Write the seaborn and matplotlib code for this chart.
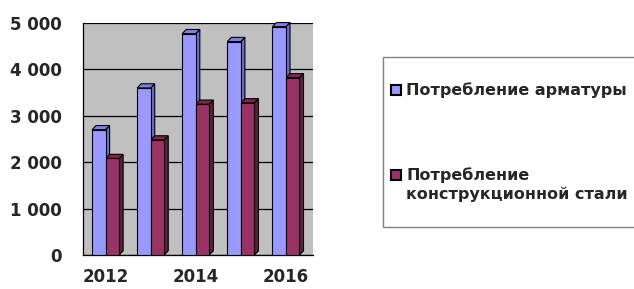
"""Consumption of rebar vs structural steel, 2012-2016."""
import matplotlib.pyplot as plt
from matplotlib.patches import Polygon, Rectangle
import pandas as pd
import seaborn as sns

years = ["2012", "2013", "2014", "2015", "2016"]
rebar = [2700, 3600, 4770, 4600, 4920]
steel = [2080, 2480, 3250, 3280, 3820]
series_names = ["Потребление арматуры", "Потребление\nконструкционной стали"]
y_ticks = [0, 1000, 2000, 3000, 4000, 5000]

colors = ["#9999FF", "#993366"]
side_colors = ["#6B6BD6", "#5E1F40"]
top_colors = ["#7F7FE6", "#7A2850"]

df = pd.DataFrame({
    "year": years * 2,
    "value": rebar + steel,
    "series": [series_names[0]] * len(years) + [series_names[1]] * len(years),
})

sns.set_style("white")
plt.rcParams["font.family"] = ["DejaVu Sans"]
plt.rcParams["font.weight"] = "bold"

W, H = 634, 289
fig = plt.figure(figsize=(W / 100, H / 100), dpi=100)
ax = fig.add_axes([83 / W, 1 - 255 / H, 230 / W, 232 / H])
ax.set_facecolor("#C0C0C0")

sns.barplot(data=df, x="year", y="value", hue="series", palette=colors,
            width=0.6, edgecolor="black", linewidth=0.8, saturation=1,
            ax=ax, zorder=3, legend=False)

# fake 3D depth derived from each bar
dx, dy = 0.09, 90
n = len(years)
for i, bar in enumerate(ax.patches[:2 * n]):
    k = i // n
    x, w, h = bar.get_x(), bar.get_width(), bar.get_height()
    side = Polygon([(x + w, 0), (x + w + dx, dy), (x + w + dx, h + dy), (x + w, h)],
                   closed=True, facecolor=side_colors[k], edgecolor="black",
                   linewidth=0.8, zorder=2.5, clip_on=False)
    top = Polygon([(x, h), (x + dx, h + dy), (x + w + dx, h + dy), (x + w, h)],
                  closed=True, facecolor=top_colors[k], edgecolor="black",
                  linewidth=0.8, zorder=2.5, clip_on=False)
    ax.add_patch(side)
    ax.add_patch(top)

ax.set_xlim(-0.5, n - 0.4)
ax.set_ylim(0, 5000)
for v in y_ticks:
    ax.axhline(v, color="black", linewidth=0.9, zorder=1)

ax.set_yticks(y_ticks)
ax.set_yticklabels([f"{v:,}".replace(",", " ") for v in y_ticks], fontsize=12, fontweight="bold")
ax.set_xticks([i - 0.5 for i in range(n + 1)])
ax.set_xticklabels([])
ax.set_xticks(range(n), minor=True)
ax.set_xticklabels([y if i % 2 == 0 else "" for i, y in enumerate(years)],
                   minor=True, fontsize=12, fontweight="bold")
ax.tick_params(axis="both", which="major", direction="out", length=5, width=0.9, color="black")
ax.tick_params(axis="x", which="minor", length=0, pad=9)
ax.tick_params(axis="y", pad=10)
ax.set_xlabel("")
ax.set_ylabel("")

for s in ["top", "right"]:
    ax.spines[s].set_visible(False)
for s in ["left", "bottom"]:
    ax.spines[s].set_color("black")
    ax.spines[s].set_linewidth(0.9)

# legend box drawn by hand so the swatch sits on the first text line
fig.patches.append(Rectangle((383 / W, 1 - 227 / H), 300 / W, 170 / H,
                             transform=fig.transFigure, facecolor="white",
                             edgecolor="#808080", linewidth=1.0))
entry_y = [90, 175]
for c, name, yy in zip(colors, series_names, entry_y):
    fig.patches.append(Rectangle((391 / W, 1 - (yy + 5) / H), 10 / W, 10 / H,
                                 transform=fig.transFigure, facecolor=c,
                                 edgecolor="black", linewidth=1.5))
    for j, line in enumerate(name.split("\n")):
        fig.text(406 / W, 1 - (yy + 19 * j) / H, line, fontsize=11.5,
                 fontweight="bold", va="center", ha="left")

fig.savefig("out.png", dpi=100, facecolor="white")
